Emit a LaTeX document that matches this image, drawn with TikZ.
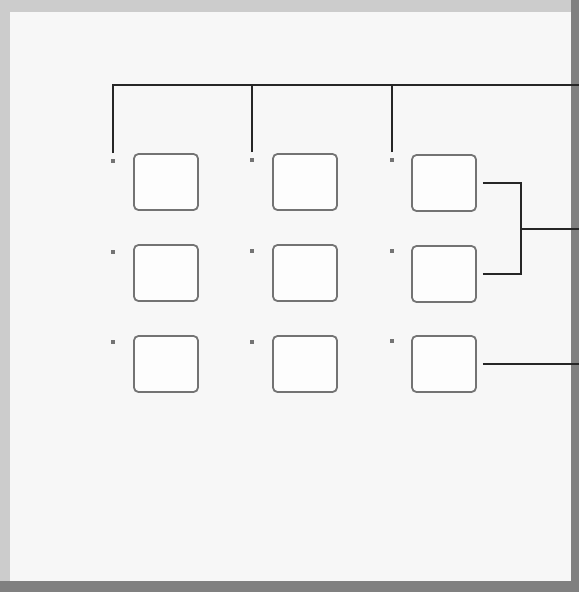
\documentclass[tikz,border=0pt]{standalone}
\usepackage{tikz}
\usetikzlibrary{positioning,calc}

\begin{document}
\begin{tikzpicture}[
  x=1pt, y=-1pt,
  outerframe/.style={fill=black!50, draw=none},
  lightframe/.style={fill=black!20, draw=none},
  panelface/.style={fill=black!3, draw=none},
  keybox/.style={draw=black!55, rounded corners=4.5pt, fill=white!60!black!2, line width=1.8pt, minimum width=64pt, minimum height=56pt, inner sep=0pt},
  dotmark/.style={fill=black!55, minimum size=3.5pt, inner sep=0pt},
  wire/.style={draw=black!85, line width=1.3pt}
]
  \useasboundingbox (0,0) rectangle (579,592);
  \fill[outerframe] (0,0) rectangle (579,592);
  \fill[lightframe] (0,0) rectangle (571,581);
  \fill[panelface] (10,12) rectangle (571,581);

  % key grid
  \node[keybox] (b11) at (166,182) {};
  \node[keybox] (b12) at (305,182) {};
  \node[keybox] (b13) at (444,183) {};
  \node[keybox] (b21) at (166,273) {};
  \node[keybox] (b22) at (305,273) {};
  \node[keybox] (b23) at (444,274) {};
  \node[keybox] (b31) at (166,364) {};
  \node[keybox] (b32) at (305,364) {};
  \node[keybox] (b33) at (444,364) {};

  % small marks beside the keys
  \node[dotmark] (d11) at ([shift={(-20,8)}]b11.north west) {};
  \node[dotmark] (d12) at ([shift={(-20,7)}]b12.north west) {};
  \node[dotmark] (d13) at ([shift={(-19,6)}]b13.north west) {};
  \node[dotmark] (d21) at ([shift={(-20,8)}]b21.north west) {};
  \node[dotmark] (d22) at ([shift={(-20,7)}]b22.north west) {};
  \node[dotmark] (d23) at ([shift={(-19,6)}]b23.north west) {};
  \node[dotmark] (d31) at ([shift={(-20,7)}]b31.north west) {};
  \node[dotmark] (d32) at ([shift={(-20,7)}]b32.north west) {};
  \node[dotmark] (d33) at ([shift={(-19,6)}]b33.north west) {};

  \coordinate (topend) at (579,85);
  \coordinate (join) at (521,229);
  \coordinate (midend) at (579,229);
  \coordinate (lowend) at (579,366);

  \draw[wire, shorten <=6pt] (d11) |- (topend);
  \draw[wire, shorten <=6pt] (d12) -- (d12 |- topend);
  \draw[wire, shorten <=6pt] (d13) -- (d13 |- topend);

  \draw[wire, shorten <=6pt] (b13.east) -| (join);
  \draw[wire, shorten <=6pt] (b23.east) -| (join);
  \draw[wire] (join) -- (midend);
  \draw[wire, shorten <=6pt] (b33.east) -- (b33.east -| lowend);
\end{tikzpicture}
\end{document}
